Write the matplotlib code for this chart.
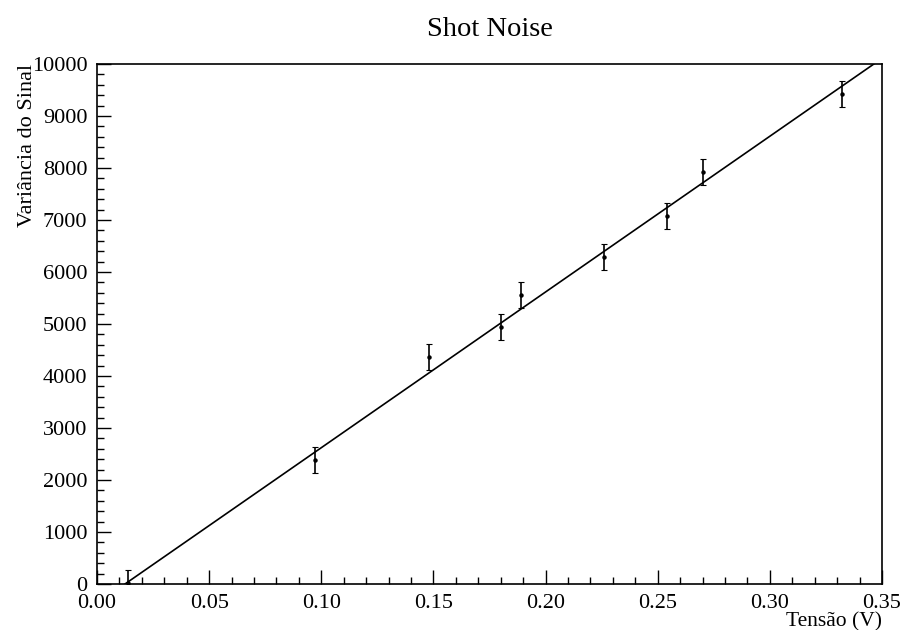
import numpy as np
from matplotlib import pyplot as plt
from matplotlib.ticker import MultipleLocator, FormatStrFormatter

plt.rcParams['font.family'] = ['Liberation Serif', 'DejaVu Serif']

tensao = [0.014, 0.097, 0.148, 0.180, 0.189, 0.226, 0.254, 0.270, 0.332]
variancia = [20, 2390, 4370, 4940, 5550, 6280, 7080, 7930, 9430]
erro = [250, 250, 245, 250, 250, 250, 250, 250, 250]

# parametros do ajuste linear
slope = 29950.0
intercept = -374.0

fig = plt.figure(figsize=(9.02, 6.30), dpi=100)
ax = fig.add_axes([97 / 902, 1 - 584 / 630, (882 - 97) / 902, (584 - 64) / 630])

ax.errorbar(tensao, variancia, yerr=erro, fmt='o', color='black', ms=2.2,
            elinewidth=1.2, capsize=2, capthick=0.8)

xf = np.linspace(0.0, 0.35, 200)
ax.plot(xf, slope * xf + intercept, color='black', lw=1.2)

ax.set_xlim(0.0, 0.35)
ax.set_ylim(0, 10000)

ax.xaxis.set_major_locator(MultipleLocator(0.05))
ax.xaxis.set_minor_locator(MultipleLocator(0.01))
ax.xaxis.set_major_formatter(FormatStrFormatter('%.2f'))
ax.yaxis.set_major_locator(MultipleLocator(1000))
ax.yaxis.set_minor_locator(MultipleLocator(200))

ax.tick_params(which='both', direction='in', top=False, right=False,
               labelsize=16, width=1.0)
ax.tick_params(which='major', length=10)
ax.tick_params(which='minor', length=5)
ax.tick_params(axis='x', pad=7.5)
ax.tick_params(axis='y', pad=7)
for s in ax.spines.values():
    s.set_linewidth(1.2)

ax.set_title('Shot Noise', fontsize=20.5, pad=20)
ax.set_xlabel('Tensão (V)', fontsize=15.5, loc='right', labelpad=-1.2)
ax.set_ylabel('Variância do Sinal', fontsize=16, loc='top', labelpad=-4)

fig.savefig('out.png', dpi=100)
